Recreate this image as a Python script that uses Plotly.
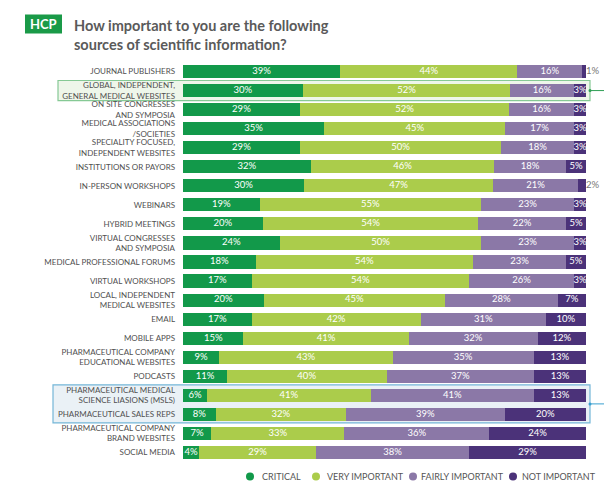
import plotly.graph_objects as go

categories = [
    "JOURNAL PUBLISHERS",
    "GLOBAL, INDEPENDENT,<br>GENERAL MEDICAL WEBSITES",
    "ON SITE CONGRESSES<br>AND SYMPOSIA",
    "MEDICAL ASSOCIATIONS<br>/SOCIETIES",
    "SPECIALITY FOCUSED,<br>INDEPENDENT WEBSITES",
    "INSTITUTIONS OR PAYORS",
    "IN-PERSON WORKSHOPS",
    "WEBINARS",
    "HYBRID MEETINGS",
    "VIRTUAL CONGRESSES<br>AND SYMPOSIA",
    "MEDICAL PROFESSIONAL FORUMS",
    "VIRTUAL WORKSHOPS",
    "LOCAL, INDEPENDENT<br>MEDICAL WEBSITES",
    "EMAIL",
    "MOBILE APPS",
    "PHARMACEUTICAL COMPANY<br>EDUCATIONAL WEBSITES",
    "PODCASTS",
    "PHARMACEUTICAL MEDICAL<br>SCIENCE LIASIONS (MSLS)",
    "PHARMACEUTICAL SALES REPS",
    "PHARMACEUTICAL COMPANY<br>BRAND WEBSITES",
    "SOCIAL MEDIA",
]
critical = [39, 30, 29, 35, 29, 32, 30, 19, 20, 24, 18, 17, 20, 17, 15, 9, 11, 6, 8, 7, 4]
very_important = [44, 52, 52, 45, 50, 46, 47, 55, 54, 50, 54, 54, 45, 42, 41, 43, 40, 41, 32, 33, 29]
fairly_important = [16, 16, 16, 17, 18, 18, 21, 23, 22, 23, 23, 26, 28, 31, 32, 35, 37, 41, 39, 36, 38]
not_important = [1, 3, 3, 3, 3, 5, 2, 3, 5, 3, 5, 3, 7, 10, 12, 13, 13, 13, 20, 24, 29]

series_names = ["CRITICAL", "VERY IMPORTANT", "FAIRLY IMPORTANT", "NOT IMPORTANT"]
series_values = [critical, very_important, fairly_important, not_important]
colors = ["#12994a", "#abcc4b", "#8b78a7", "#4b3279"]

W, H = 612, 500
OFF = 8  # page body margin in the browser
L, R, T, B = 175, 34, 53.5, 45.5
pw, ph = W - L - R, H - T - B


def px(x):
    """screen x -> paper x"""
    return (x - OFF - L) / pw


def py(y):
    """screen y -> paper y"""
    return (H - B - (y - OFF)) / ph


FONT = "Lato"
SMALL = 3  # segments below this share get their label outside the bar
fig = go.Figure()

# stacked bars (normalised to 100% by barnorm)
for name, vals, col in zip(series_names, series_values, colors):
    fig.add_trace(go.Bar(
        y=categories, x=vals, name=name, orientation="h",
        marker=dict(color=col, line=dict(width=0)),
        showlegend=False, hoverinfo="skip",
    ))

# segment labels at the middle of each (normalised) segment
totals = [sum(s[i] for s in series_values) for i in range(len(categories))]
lab_x, lab_y, lab_t = [], [], []
out_x, out_y, out_t = [], [], []
for i, cat in enumerate(categories):
    cum = 0
    for vals in series_values:
        v = vals[i]
        mid = (cum + v / 2) / totals[i] * 100
        cum += v
        if v < SMALL:
            out_x.append(100)
            out_y.append(cat)
            out_t.append(f"{v}%")
        else:
            lab_x.append(mid)
            lab_y.append(cat)
            lab_t.append(f"{v}%")

fig.add_trace(go.Scatter(
    x=lab_x, y=lab_y, text=lab_t, mode="text", textposition="middle center",
    textfont=dict(color="white", size=9.5, family=FONT),
    cliponaxis=False, showlegend=False, hoverinfo="skip",
))
fig.add_trace(go.Scatter(
    x=out_x, y=out_y, text=out_t, mode="text", textposition="middle right",
    textfont=dict(color="#777777", size=9.5, family=FONT),
    cliponaxis=False, showlegend=False, hoverinfo="skip",
))

shapes = []
# green highlight box around row 1
shapes.append(dict(type="rect", xref="paper", yref="y", x0=px(58), x1=px(590),
                   y0=0.47, y1=1.53, fillcolor="#eef6ea",
                   line=dict(color="#86c995", width=1.2), layer="below"))
shapes.append(dict(type="line", xref="paper", yref="y", x0=px(590), x1=px(620),
                   y0=1, y1=1, line=dict(color="#2e9e55", width=1)))
shapes.append(dict(type="circle", xref="paper", yref="y", x0=px(588.5), x1=px(591.5),
                   y0=0.92, y1=1.08, fillcolor="#2e9e55", line=dict(width=0)))
# blue highlight box around rows 17-18
shapes.append(dict(type="rect", xref="paper", yref="y", x0=px(53), x1=px(590),
                   y0=16.45, y1=18.45, fillcolor="#eaf1f6",
                   line=dict(color="#74b6d8", width=1.2), layer="below"))
shapes.append(dict(type="line", xref="paper", yref="y", x0=px(590), x1=px(620),
                   y0=17.45, y1=17.45, line=dict(color="#3aa0d0", width=1)))
shapes.append(dict(type="circle", xref="paper", yref="y", x0=px(588.5), x1=px(591.5),
                   y0=17.37, y1=17.53, fillcolor="#3aa0d0", line=dict(width=0)))
# HCP badge
shapes.append(dict(type="rect", xref="paper", yref="paper", x0=px(25), x1=px(62),
                   y0=py(33), y1=py(14), fillcolor="#1a9a48", line=dict(width=0)))

annotations = [
    dict(xref="paper", yref="paper", x=px(43.5), y=py(23.5), text="<b>HCP</b>",
         showarrow=False, font=dict(color="white", size=13, family=FONT),
         xanchor="center", yanchor="middle"),
    dict(xref="paper", yref="paper", x=px(72), y=py(34.5), align="left",
         text="<b>How important to you are the following<br>sources of scientific information?</b>",
         showarrow=False, font=dict(color="#5a5a5a", size=14.5, family=FONT),
         xanchor="left", yanchor="middle"),
]

# legend: circles + labels
legend_circle_x = [250, 316, 413, 513]
legend_text_x = [262, 327, 421, 522]
legend_y = 477
r = 4
for name, col, cx, tx in zip(series_names, colors, legend_circle_x, legend_text_x):
    shapes.append(dict(type="circle", xref="paper", yref="paper",
                       x0=px(cx - r), x1=px(cx + r), y0=py(legend_y + r), y1=py(legend_y - r),
                       fillcolor=col, line=dict(width=0)))
    annotations.append(dict(xref="paper", yref="paper", x=px(tx - 2), y=py(legend_y),
                            text=name, showarrow=False, xanchor="left", yanchor="middle",
                            font=dict(size=9, color="#555555", family=FONT)))

n = len(categories)
fig.update_layout(
    width=W, height=H,
    margin=dict(l=L, r=R, t=T, b=B, autoexpand=False),
    paper_bgcolor="white", plot_bgcolor="white",
    barmode="stack", barnorm="percent", bargap=0.31,
    font=dict(family=FONT, color="#555555"),
    shapes=shapes, annotations=annotations,
    showlegend=False,
    xaxis=dict(range=[0, 100], visible=False, fixedrange=True),
    yaxis=dict(range=[n - 0.5, -0.5], showgrid=False, zeroline=False, showline=False,
               ticks="", ticklabelstandoff=7,
               tickfont=dict(size=8, color="#505050", family=FONT)),
)

fig.write_html("out.html")
